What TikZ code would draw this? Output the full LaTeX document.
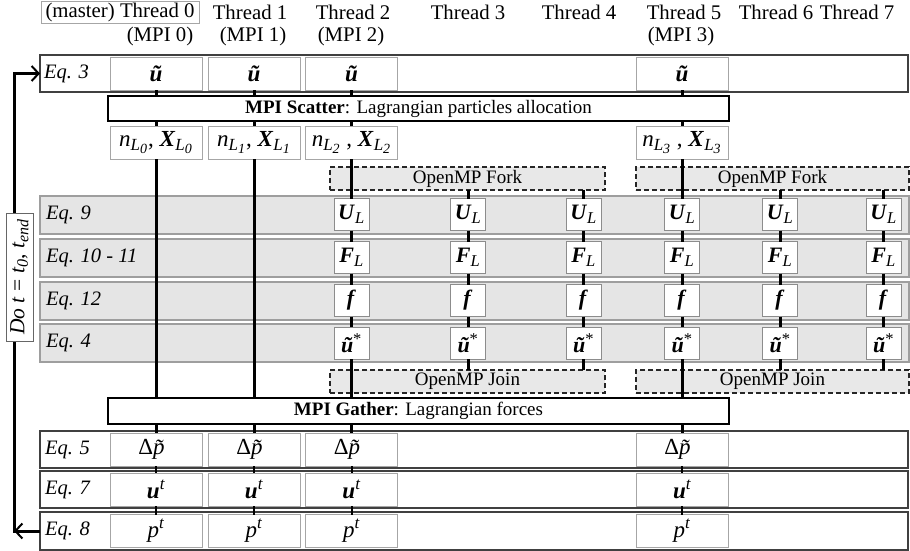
\documentclass[tikz,border=0pt]{standalone}
\usepackage{amsmath}
\usepackage{fontspec}
\setmainfont{Liberation Serif}
\usetikzlibrary{arrows.meta}
\DeclareMathSizes{23}{23}{17}{14}
\DeclareMathSizes{22}{22}{16.5}{13}
\DeclareMathSizes{21.5}{21.5}{16}{12.5}

% bold italic vector symbols and italic scalars
\newcommand\bv[1]{\textbf{\textit{#1}}}
\newcommand\iv[1]{\textit{#1}}

\begin{document}
\begin{tikzpicture}[x=1pt,y=-1pt,
  every node/.style={inner sep=0pt, outer sep=0pt},
  hdr/.style={font=\fontsize{20.8}{24}\selectfont},
  eqlab/.style={font=\fontsize{20.5}{24}\selectfont\itshape, anchor=west},
  band/.style={draw=black!75, line width=1.4pt, fill=white, anchor=north west, minimum width=868},
  grayband/.style={draw=black!38, line width=1.2pt, fill=black!10, anchor=north west, minimum width=869, minimum height=38},
  bigbox/.style={draw=black!35, line width=0.8pt, fill=white, minimum width=92, minimum height=33, font=\fontsize{23}{26}\selectfont},
  smallbox/.style={draw=black!45, line width=0.8pt, fill=white, minimum width=35, minimum height=32, font=\fontsize{22}{25}\selectfont},
  mpibox/.style={draw=black, line width=2pt, fill=white, anchor=north west, minimum width=621, font=\fontsize{19}{22}\selectfont},
  ompbox/.style={draw=black!85, line width=1.3pt, dash pattern=on 5pt off 3pt, fill=black!9, anchor=north west, minimum height=23, font=\fontsize{19}{22}\selectfont},
  link/.style={line width=3pt},
  tick/.style={line width=2pt},
  loopline/.style={line width=3pt, line join=miter, -{Straight Barb[length=7pt,width=15pt,line width=2pt]}}
]
\useasboundingbox (0,0) rectangle (910,551);

% ---------- header ----------
\node[hdr, draw=black!35, line width=0.8pt, minimum width=158, minimum height=22, anchor=north west] (h0) at (41,1) {(master) Thread 0};
\node[hdr] (h1) at (250,12) {Thread 1};
\node[hdr] (h2) at (353,12) {Thread 2};
\node[hdr] (h3) at (468,12) {Thread 3};
\node[hdr] (h4) at (579,12) {Thread 4};
\node[hdr] (h5) at (684,12) {Thread 5};
\node[hdr] (h6) at (776,12) {Thread 6};
\node[hdr] (h7) at (857,12) {Thread 7};
\node[hdr] (m0) at (160,36) {(MPI 0)};
\node[hdr] (m1) at (253,36) {(MPI 1)};
\node[hdr] (m2) at (351,36) {(MPI 2)};
\node[hdr] (m3) at (681,36) {(MPI 3)};

% ---------- bands ----------
\node[band, minimum height=37] (b3) at (40,55) {};
\node[grayband] (b9) at (40,196) {};
\node[grayband] (b10) at (40,239) {};
\node[grayband] (b12) at (40,282) {};
\node[grayband] (b4) at (40,324) {};
\node[band, minimum height=37] (b5) at (40,431) {};
\node[band, minimum height=37] (b7) at (40,471) {};
\node[band, minimum height=38] (b8) at (40,512) {};

\node[eqlab] (l3) at (44,73.5) {Eq. 3};
\node[eqlab] (l9) at (46,215) {Eq. 9};
\node[eqlab] (l10) at (46,258) {Eq. 10 - 11};
\node[eqlab] (l12) at (46,301) {Eq. 12};
\node[eqlab] (l4) at (46,343) {Eq. 4};
\node[eqlab] (l5) at (45,449.5) {Eq. 5};
\node[eqlab] (l7) at (45,489.5) {Eq. 7};
\node[eqlab] (l8) at (45,531) {Eq. 8};

% ---------- MPI stages ----------
\node[mpibox, minimum height=25] (scatter) at (108,96) {\textbf{MPI Scatter}: Lagrangian particles allocation};
\node[mpibox, minimum height=26] (gather) at (108,398) {\textbf{MPI Gather}: Lagrangian forces};

% ---------- OpenMP fork / join ----------
\node[ompbox, minimum width=275] (fork1) at (330,167) {OpenMP Fork};
\node[ompbox, minimum width=273] (fork2) at (636,167) {OpenMP Fork};
\node[ompbox, minimum width=275] (join1) at (330,370) {OpenMP Join};
\node[ompbox, minimum width=273] (join2) at (636,370) {OpenMP Join};

% ---------- per-process boxes ----------
\foreach \i/\cx in {0/156,1/254,2/351.5,5/682} {
  \node[bigbox] (ut\i) at (\cx,73.5) {\bv{ũ}};
  \node[bigbox] (dp\i) at (\cx,449.5) {Δ\iv{p̃}};
  \node[bigbox] (uu\i) at (\cx,489.5) {$\bv{u}^{\iv{t}}$};
  \node[bigbox] (pt\i) at (\cx,531) {$\iv{p}^{\iv{t}}$};
}
\node[bigbox] (n0) at (156,142.5) {$\iv{n}_{\iv{L}_{\iv{0}}}$, $\bv{X}_{\iv{L}_{\iv{0}}}$};
\node[bigbox] (n1) at (254,142.5) {$\iv{n}_{\iv{L}_{\iv{1}}}$, $\bv{X}_{\iv{L}_{\iv{1}}}$};
\node[bigbox] (n2) at (351.5,142.5) {$\iv{n}_{\iv{L}_{\iv{2}}}$ , $\bv{X}_{\iv{L}_{\iv{2}}}$};
\node[bigbox] (n5) at (682,142.5) {$\iv{n}_{\iv{L}_{\iv{3}}}$ , $\bv{X}_{\iv{L}_{\iv{3}}}$};

% ---------- per-thread boxes ----------
\foreach \i/\cx in {2/351.5,3/468,4/583.5,5/682,6/780,7/883.5} {
  \node[smallbox] (U\i) at (\cx,214.5) {$\bv{U}_{\iv{L}}$};
  \node[smallbox] (F\i) at (\cx,257.5) {$\bv{F}_{\iv{L}}$};
  \node[smallbox] (f\i) at (\cx,300.5) {\bv{f}};
  \node[smallbox] (us\i) at (\cx,343) {\bv{ũ}\textsuperscript{*}};
}

% ---------- connectors ----------
\foreach \i in {0,1,2,5} {
  \draw[link] (ut\i.south) -- (ut\i.south |- scatter.north);
  \draw[link] (n\i.north |- scatter.south) -- (n\i.north);
  \draw[link] (dp\i.north |- gather.south) -- (dp\i.north);
  \draw[tick] (dp\i.south) -- (uu\i.north);
  \draw[tick] (uu\i.south) -- (pt\i.north);
}
\draw[link] (n0.south) -- (n0.south |- gather.north);
\draw[link] (n1.south) -- (n1.south |- gather.north);
\draw[link] (n2.south) -- (U2.north);
\draw[link] (n5.south) -- (U5.north);
\foreach \i in {3,4} {
  \draw[link] (U\i.north |- fork1.south) -- (U\i.north);
  \draw[link] (us\i.south) -- (us\i.south |- join1.north);
}
\foreach \i in {6,7} {
  \draw[link] (U\i.north |- fork2.south) -- (U\i.north);
  \draw[link] (us\i.south) -- (us\i.south |- join2.north);
}
\foreach \i in {2,...,7} {
  \draw[link] (U\i.south) -- (F\i.north);
  \draw[link] (F\i.south) -- (f\i.north);
  \draw[link] (f\i.south) -- (us\i.north);
}
\draw[link] (us2.south) -- (us2.south |- gather.north);
\draw[link] (us5.south) -- (us5.south |- gather.north);

% ---------- time loop ----------
\coordinate (cb) at (14,531);
\coordinate (cbl) at (14,532.5);
\coordinate (ct) at (14,73.5);
\draw[loopline] (b8.west) -- (cb);
\draw[loopline] (cbl) -- (ct) -- (b3.west);
\node[draw=black!60, line width=0.8pt, fill=white, rotate=90, minimum width=128, minimum height=27,
      font=\fontsize{21.5}{24}\selectfont] (doloop) at (19.5,277)
  {\iv{Do t} = $\iv{t}_{\iv{0}}$, $\iv{t}_{\iv{end}}$};
\end{tikzpicture}
\end{document}
